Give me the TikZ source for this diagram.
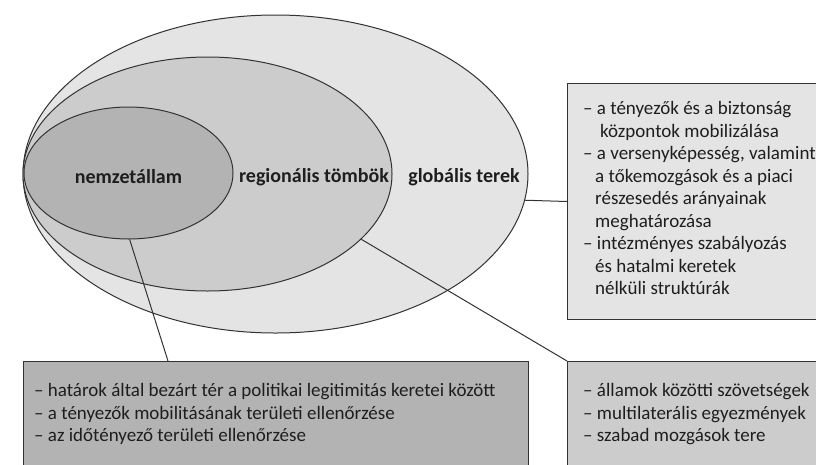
\documentclass[tikz,border=0pt]{standalone}
\usepackage{fontspec}
\setmainfont{Carlito}
\usetikzlibrary{shapes.geometric}
\definecolor{cglob}{HTML}{E4E4E4}
\definecolor{creg}{HTML}{CCCCCC}
\definecolor{cnem}{HTML}{B3B3B3}
\definecolor{cline}{HTML}{333333}
\definecolor{ctext}{HTML}{1E1E1E}
\begin{document}
\begin{tikzpicture}[x=1pt,y=-1pt,
  ell/.style={ellipse, draw=cline, line width=1pt, inner sep=0pt},
  boxx/.style={rectangle, draw=cline, line width=1pt, inner sep=0pt, anchor=north west},
  conn/.style={draw=cline, line width=1pt},
  lbl/.style={font=\fontsize{20}{22}\selectfont\bfseries, text=ctext, inner sep=0pt},
  txt/.style={font=\fontsize{19}{22}\selectfont, text=ctext, anchor=base west, inner sep=0pt}]
\useasboundingbox (0,0) rectangle (816,464);
\clip (0,0) rectangle (816,464);
\fill[white] (0,0) rectangle (816,464);
% ellipses
\node[ell, fill=cglob, minimum width=505pt, minimum height=318pt] (glob) at (275.5,174) {};
\node[ell, fill=creg, minimum width=369pt, minimum height=234pt] (reg) at (207.5,174) {};
\node[ell, fill=cnem, minimum width=209pt, minimum height=132pt] (nem) at (128.5,173) {};
% labels
\node[lbl] (lnem) at (128.5,177) {nemzetállam};
\node[lbl] (lreg) at (314,177) {regionális tömbök};
\node[lbl] (lglob) at (464,177) {globális terek};
% boxes
\node[boxx, fill=cglob, minimum width=263pt, minimum height=236pt] (rb) at (567,83) {};
\node[boxx, fill=cnem, minimum width=505pt, minimum height=130pt] (bl) at (23,361) {};
\node[boxx, fill=creg, minimum width=263pt, minimum height=130pt] (br) at (567,361) {};
\coordinate (blc) at (168,361);
% connectors
\draw[conn] (glob.-6.4) -- (rb.west);
\draw[conn] (nem.-89) -- (blc);
\draw[conn] (reg.-23.4) -- (br.north west);
% right box text
\foreach \i/\xx/\t in {1/583/{– a tényezők és a biztonság},
  2/600/{központok mobilizálása},
  3/583/{– a versenyképesség, valamint},
  4/595/{a tőkemozgások és a piaci},
  5/595/{részesedés arányainak},
  6/595/{meghatározása},
  7/583/{– intézményes szabályozás},
  8/595/{és hatalmi keretek},
  9/595/{nélküli struktúrák}}
  \node[txt] (rt\i) at (\xx,{114.5+22.5*(\i-1)}) {\t};
% bottom left text
\foreach \i/\t in {1/{– határok által bezárt tér a politikai legitimitás keretei között},
  2/{– a tényezők mobilitásának területi ellenőrzése},
  3/{– az időtényező területi ellenőrzése}}
  \node[txt] (bt\i) at (34,{396.5+22.5*(\i-1)}) {\t};
% bottom right text
\foreach \i/\t in {1/{– államok közötti szövetségek},
  2/{– multilaterális egyezmények},
  3/{– szabad mozgások tere}}
  \node[txt] (brt\i) at (583,{396.5+22.5*(\i-1)}) {\t};
\end{tikzpicture}
\end{document}
